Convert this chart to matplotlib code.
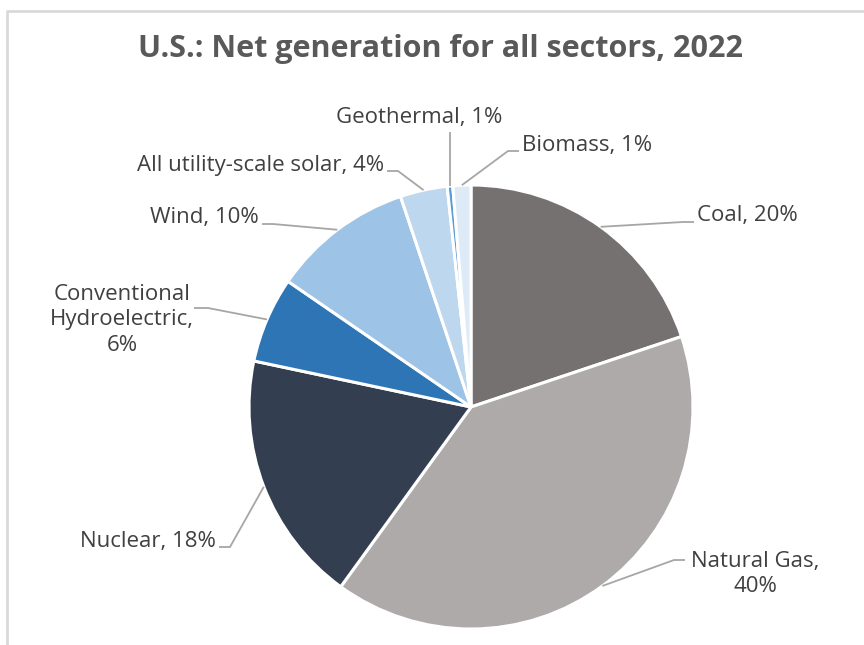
import matplotlib.pyplot as plt
import numpy as np

# fuel shares, % of US net generation 2022
sources = ['Coal', 'Natural Gas', 'Nuclear', 'Conventional Hydroelectric',
           'Wind', 'All utility-scale solar', 'Geothermal', 'Biomass']
shares = [19.7, 39.8, 18.2, 6.2, 10.2, 3.4, 0.4, 1.3]
labels = ['Coal, 20%', 'Natural Gas,\n40%', 'Nuclear, 18%',
          'Conventional\nHydroelectric,\n6%', 'Wind, 10%',
          'All utility-scale solar, 4%', 'Geothermal, 1%', 'Biomass, 1%']
colors = ['#767171', '#AEAAAA', '#333F50', '#2E75B6',
          '#9DC3E6', '#BDD7EE', '#5B9BD5', '#DEEBF7']

# label placement in pixels (x, y from top), alignment
label_pos = [(697, 216, 'left'), (688, 567, 'left'), (216, 541, 'right'),
             (196, 320, 'right'), (259, 218, 'right'), (384, 165, 'right'),
             (419, 118, 'center'), (522, 145, 'left')]

W, H = 864, 645
cx, cy, r = 471, H - 407, 222
FS = 16

plt.rcParams['font.family'] = ['Open Sans', 'DejaVu Sans']
fig = plt.figure(figsize=(W / 100, H / 100), dpi=100)
ax = fig.add_axes([0, 0, 1, 1])

wedges, _ = ax.pie(shares, colors=colors, startangle=90, counterclock=False,
                   center=(cx, cy), radius=r,
                   wedgeprops=dict(edgecolor='white', linewidth=2.2))
ax.set_xlim(0, W)
ax.set_ylim(0, H)
ax.set_aspect('equal')
ax.axis('off')

for w, lab, (tx, ty, ha) in zip(wedges, labels, label_pos):
    mid = np.deg2rad((w.theta1 + w.theta2) / 2)
    px, py = cx + r * np.cos(mid), cy + r * np.sin(mid)
    ty = H - ty
    nlines = lab.count('\n') + 1
    if nlines == 3:
        # hydro: line runs into the middle row of the text block
        xs, ys = [px, tx + 12, tx - 2], [py, ty + 12, ty + 12]
        ax.text(tx - 74, ty, lab, ha='center', va='center', fontsize=FS,
                color='#404040', linespacing=1.3)
    elif nlines == 2:
        ly = ty + 7
        xs, ys = [px, tx - 14, tx - 3], [py, ly, ly]
        ax.text(tx + 67, ty - 7, lab, ha='center', va='center', fontsize=FS,
                color='#404040', linespacing=1.3)
    elif ha == 'center':
        xs, ys = [px, px], [py, ty - 14]
        ax.text(tx, ty, lab, ha=ha, va='center', fontsize=FS, color='#404040')
    else:
        d = 1 if ha == 'right' else -1
        xs, ys = [px, tx + 14 * d, tx + 3 * d], [py, ty - 6, ty - 6]
        ax.text(tx, ty, lab, ha=ha, va='center', fontsize=FS, color='#404040')
    ax.plot(xs, ys, color='#A6A6A6', lw=1.3, solid_capstyle='butt')

ax.text(441, H - 49, 'U.S.: Net generation for all sectors, 2022', ha='center',
        va='center', fontsize=22, fontweight='bold', color='#595959')

# chart frame (cropped on the right and bottom)
ax.plot([7, 7, W], [0, H - 11, H - 11], color='#D9D9D9', lw=2)

fig.savefig('out.png', dpi=100)
